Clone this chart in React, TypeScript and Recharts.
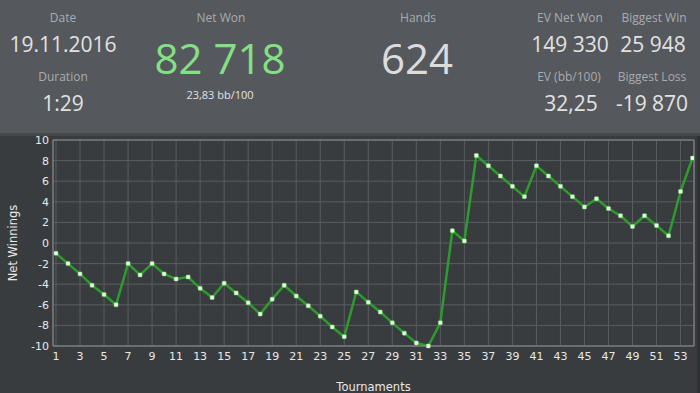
import { LineChart, Line, XAxis, YAxis, CartesianGrid, ReferenceLine } from "recharts";

const tournaments = Array.from({ length: 54 }, (_, i) => i + 1);
const netWinnings = [
  -1.0, -2.0, -3.0, -4.1, -5.0, -6.0, -2.0, -3.1, -2.0, -3.0,
  -3.5, -3.3, -4.4, -5.3, -3.9, -4.85, -5.8, -6.9, -5.45, -4.1,
  -5.15, -6.1, -7.1, -8.15, -9.1, -4.75, -5.75, -6.7, -7.75, -8.75,
  -9.7, -10.0, -7.75, 1.2, 0.2, 8.5, 7.5, 6.5, 5.5, 4.5,
  7.5, 6.5, 5.5, 4.5, 3.5, 4.3, 3.35, 2.65, 1.6, 2.65,
  1.7, 0.7, 5.0, 8.25,
];
const xTicks = [1, 3, 5, 7, 9, 11, 13, 15, 17, 19, 21, 23, 25, 27, 29, 31, 33, 35, 37, 39, 41, 43, 45, 47, 49, 51, 53];
const yTicks = [-10, -8, -6, -4, -2, 0, 2, 4, 6, 8, 10];
const xMin = 0.75;
const xMax = 54.12;

const headerLabels = [
  { text: "Date", x: 63, y: 18 },
  { text: "Duration", x: 63, y: 77 },
  { text: "Net Won", x: 221, y: 18 },
  { text: "Hands", x: 418, y: 18 },
  { text: "EV Net Won", x: 570, y: 18 },
  { text: "Biggest Win", x: 654, y: 18 },
  { text: "EV (bb/100)", x: 569, y: 77 },
  { text: "Biggest Loss", x: 652, y: 77 },
];
const headerValues = [
  { text: "19.11.2016", x: 63, y: 44, size: 21, color: "#e2e2e2" },
  { text: "1:29", x: 63, y: 103, size: 21, color: "#e2e2e2" },
  { text: "82 718", x: 220, y: 58, size: 42, color: "#84e084" },
  { text: "23,83 bb/100", x: 220, y: 94, size: 11, color: "#e2e2e2" },
  { text: "624", x: 417, y: 58, size: 42, color: "#dcdcdc" },
  { text: "149 330", x: 570, y: 44, size: 21, color: "#e2e2e2" },
  { text: "25 948", x: 653, y: 44, size: 21, color: "#e2e2e2" },
  { text: "32,25", x: 571, y: 103, size: 21, color: "#e2e2e2" },
  { text: "-19 870", x: 652, y: 103, size: 21, color: "#e2e2e2" },
];

const data = tournaments.map((t, i) => ({ t, value: netWinnings[i] }));

const HeaderText = ({ text, x, y, size, color }: { text: string; x: number; y: number; size: number; color: string }) => (
  <div
    style={{
      position: "absolute",
      left: x,
      top: y,
      transform: "translate(-50%, -50%)",
      fontSize: size,
      lineHeight: 1,
      color,
      whiteSpace: "nowrap",
    }}
  >
    {text}
  </div>
);

const Dot = (props: any) => {
  const { cx, cy } = props;
  if (cx == null || cy == null) return null;
  return <rect x={cx - 2} y={cy - 2} width={4} height={4} rx={0.8} fill="#e4ffdc" stroke="#7ad47a" strokeWidth={0.5} />;
};

export default function App() {
  return (
    <div
      style={{
        position: "fixed",
        left: 0,
        top: 0,
        width: 700,
        height: 393,
        background: "#393c3f",
        fontFamily: "'Open Sans', sans-serif",
        overflow: "hidden",
      }}
    >
      <div style={{ position: "absolute", left: 0, top: 0, width: 700, height: 133, background: "#55585c" }} />
      <div style={{ position: "absolute", left: 0, top: 133, width: 700, height: 3, background: "#46494c" }} />
      <div style={{ position: "absolute", left: 697, top: 136, width: 3, height: 257, background: "#2f3134" }} />
      {headerLabels.map((l) => (
        <HeaderText key={l.text} text={l.text} x={l.x} y={l.y} size={12} color="#a9acaf" />
      ))}
      {headerValues.map((v) => (
        <HeaderText key={v.text} {...v} />
      ))}
      <div style={{ position: "absolute", left: 0, top: 135 }}>
        <LineChart width={700} height={258} data={data} margin={{ top: 5, right: 6, bottom: 0, left: 0 }}>
          <CartesianGrid stroke="#5a5d60" strokeWidth={1} />
          <XAxis
            dataKey="t"
            type="number"
            domain={[xMin, xMax]}
            ticks={xTicks}
            interval={0}
            allowDataOverflow
            height={47}
            tickSize={0}
            tickMargin={6}
            stroke="#8e9092"
            tick={{ fill: "#e8e8e8", fontSize: 11, fontFamily: "'DejaVu Sans', sans-serif" }}
            label={{
              value: "Tournaments",
              position: "insideBottom",
              offset: 2,
              fill: "#e8e8e8",
              fontSize: 11.5,
              fontFamily: "'DejaVu Sans', sans-serif",
            }}
          />
          <YAxis
            type="number"
            domain={[-10, 10]}
            ticks={yTicks}
            interval={0}
            width={53}
            tickSize={0}
            tickMargin={4}
            stroke="#8e9092"
            tick={{ fill: "#e8e8e8", fontSize: 11, fontFamily: "'DejaVu Sans', sans-serif" }}
            label={{
              value: "Net Winnings",
              angle: -90,
              position: "insideLeft",
              offset: 13,
              style: { textAnchor: "middle" },
              fill: "#e8e8e8",
              fontSize: 11.5,
              fontFamily: "'DejaVu Sans', sans-serif",
            }}
          />
          <ReferenceLine y={10} stroke="#8e9092" />
          <ReferenceLine x={xMax} stroke="#8e9092" />
          <Line
            type="linear"
            dataKey="value"
            stroke="#2e9b2e"
            strokeWidth={2.5}
            dot={<Dot />}
            activeDot={false}
            isAnimationActive={false}
          />
        </LineChart>
      </div>
    </div>
  );
}
